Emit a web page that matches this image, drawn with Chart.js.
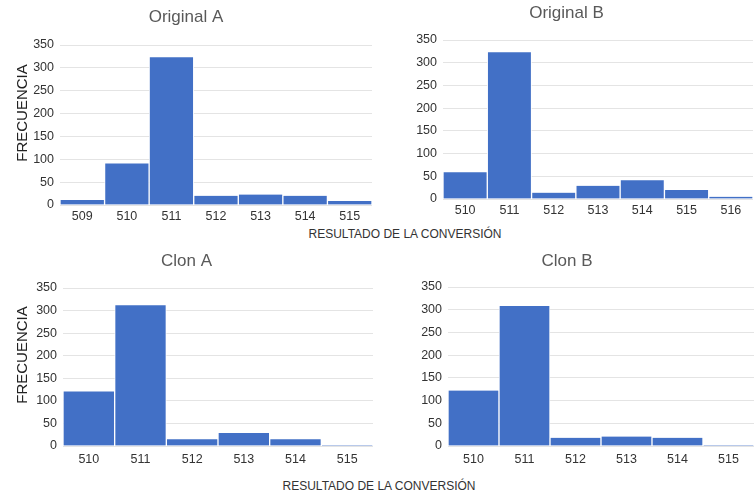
<!DOCTYPE html>
<html>
<head>
<meta charset="utf-8">
<script src="https://cdn.jsdelivr.net/npm/chart.js@4.4.0/dist/chart.umd.min.js"></script>
<style>
  html, body { margin: 0; padding: 0; background: #fff; }
  body { width: 754px; height: 493px; position: relative; overflow: hidden; font-family: "Liberation Sans", Arial, sans-serif; }
  .box { position: absolute; }
  .xlab { position: absolute; font-size: 12px; color: #333; white-space: nowrap; transform: translateX(-50%); }
  .ylab { position: absolute; font-size: 15px; color: #222; white-space: nowrap; transform: translate(-50%, -50%) rotate(-90deg); }
</style>
</head>
<body>
<div class="box" style="left:0;top:0;width:376px;height:224px"><canvas id="c1"></canvas></div>
<div class="box" style="left:380px;top:0;width:374px;height:222px"><canvas id="c2"></canvas></div>
<div class="box" style="left:0;top:245px;width:376px;height:225px"><canvas id="c3"></canvas></div>
<div class="box" style="left:380px;top:245px;width:374px;height:225px"><canvas id="c4"></canvas></div>
<div class="ylab" style="left:21px;top:113px">FRECUENCIA</div>
<div class="ylab" style="left:21px;top:355px">FRECUENCIA</div>
<div class="xlab" style="left:405px;top:227px">RESULTADO DE LA CONVERSIÓN</div>
<div class="xlab" style="left:379px;top:479px">RESULTADO DE LA CONVERSIÓN</div>
<script>
// Data
const titles = ['Original A', 'Original B', 'Clon A', 'Clon B'];
const catsOrigA = ['509', '510', '511', '512', '513', '514', '515'];
const valsOrigA = [11, 91, 323, 20, 23, 20, 9];
const catsOrigB = ['510', '511', '512', '513', '514', '515', '516'];
const valsOrigB = [59, 323, 14, 29, 41, 20, 5];
const catsClon = ['510', '511', '512', '513', '514', '515'];
const valsClonA = [121, 312, 15, 29, 15, 2];
const valsClonB = [122, 308, 18, 21, 18, 2];
const yTicks = [0, 50, 100, 150, 200, 250, 300, 350];

const FONT = '"Liberation Sans", Arial, sans-serif';
const BAR = '#4270c6';

function make(id, title, cats, vals, cfg) {
  new Chart(document.getElementById(id), {
    type: 'bar',
    data: {
      labels: cats,
      datasets: [{
        data: vals,
        backgroundColor: BAR,
        borderColor: 'rgba(255,255,255,0.85)',
        borderWidth: { left: 1, right: 1, top: 0, bottom: 0 },
        borderSkipped: false,
        categoryPercentage: 1,
        barPercentage: 1
      }]
    },
    options: {
      responsive: true,
      maintainAspectRatio: false,
      animation: false,
      layout: { padding: { left: 0, right: cfg.padRight, top: 0, bottom: 0 } },
      plugins: {
        legend: { display: false },
        tooltip: { enabled: false },
        title: {
          display: true,
          text: title,
          color: '#595959',
          font: { family: FONT, size: 17, weight: 'normal' },
          padding: { top: cfg.titleTop, bottom: cfg.titleBottom }
        }
      },
      scales: {
        x: {
          grid: { display: false, drawTicks: false },
          border: { display: false },
          ticks: { color: '#333', font: { family: FONT, size: 12.5 }, padding: cfg.xPad, maxRotation: 0, autoSkip: false },
          afterFit: s => { s.height = cfg.xHeight; }
        },
        y: {
          min: 0,
          max: 350,
          afterBuildTicks: s => { s.ticks = yTicks.map(v => ({ value: v })); },
          grid: { color: '#e4e4e4', drawTicks: false, lineWidth: 1 },
          border: { display: false },
          ticks: { color: '#333', font: { family: FONT, size: 12.5 }, padding: 6 },
          afterFit: s => { s.width = cfg.yWidth; }
        }
      }
    }
  });
}

make('c1', titles[0], catsOrigA, valsOrigA, { padRight: 4, titleTop: 7, titleBottom: 17.6, yWidth: 60, xHeight: 19, xPad: 4 });
make('c2', titles[1], catsOrigB, valsOrigB, { padRight: 1, titleTop: 3, titleBottom: 16.6, yWidth: 63, xHeight: 23, xPad: 4 });
make('c3', titles[2], catsClon, valsClonA, { padRight: 3, titleTop: 6, titleBottom: 16.6, yWidth: 63, xHeight: 24, xPad: 6 });
make('c4', titles[3], catsClon, valsClonB, { padRight: 0, titleTop: 6, titleBottom: 15.6, yWidth: 68, xHeight: 24, xPad: 6 });
</script>
</body>
</html>
